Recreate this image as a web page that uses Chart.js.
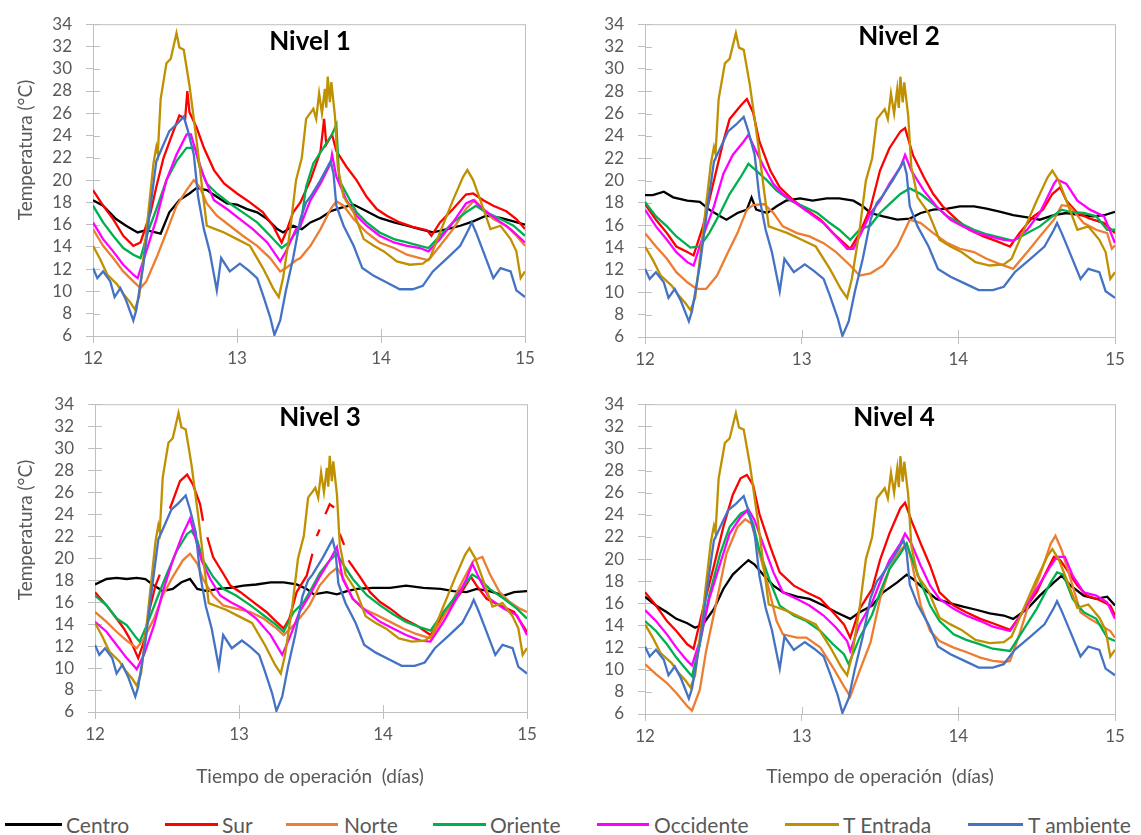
<!DOCTYPE html>
<html>
<head>
<meta charset="utf-8">
<script src="https://cdn.jsdelivr.net/npm/chart.js@4.4.1/dist/chart.umd.min.js"></script>
<style>
  body { margin: 0; background: #fff; }
  #page { position: relative; width: 1141px; height: 835px; font-family: Lato, "Open Sans", sans-serif; color: #595959; }
  canvas { position: absolute; }
  .txt { position: absolute; white-space: nowrap; transform: translate(-50%, -50%); }
  .nivel { font-weight: bold; font-size: 26px; color: #000; }
  .ytit { font-size: 19px; transform: translate(-50%, -50%) rotate(-90deg); }
  .xtit { font-size: 19px; }
  .leg-line { position: absolute; height: 3px; top: 823px; }
  .leg-txt { position: absolute; top: 812px; font-size: 21px; line-height: 26px; }
</style>
</head>
<body>
<div id="page">
  <canvas id="c1" width="560" height="380" style="left:0;top:0"></canvas>
  <canvas id="c2" width="581" height="380" style="left:560px;top:0"></canvas>
  <canvas id="c3" width="560" height="420" style="left:0;top:380px"></canvas>
  <canvas id="c4" width="581" height="420" style="left:560px;top:380px"></canvas>

  <div class="txt nivel" style="left:310px;top:40px">Nivel 1</div>
  <div class="txt nivel" style="left:899px;top:35px">Nivel 2</div>
  <div class="txt nivel" style="left:320px;top:416px">Nivel 3</div>
  <div class="txt nivel" style="left:894px;top:416px">Nivel 4</div>

  <div class="txt ytit" style="left:24px;top:150px">Temperatura (°C)</div>
  <div class="txt ytit" style="left:24px;top:530px">Temperatura (°C)</div>
  <div class="txt xtit" style="left:310px;top:775px">Tiempo de operación&nbsp; (días)</div>
  <div class="txt xtit" style="left:880px;top:775px">Tiempo de operación&nbsp; (días)</div>

  <div id="legend"></div>
</div>

<script>
// series names and colours (legend order)
const nombres = ['Centro', 'Sur', 'Norte', 'Oriente', 'Occidente', 'T Entrada', 'T ambiente'];
const colores = ['#000000', '#FF0000', '#ED7D31', '#00B050', '#FF00FF', '#BF9000', '#4472C4'];

// [día, °C] — same in all four panels
const tEntrada = [[12.00,14.1],[12.05,12.9],[12.10,11.5],[12.17,10.6],[12.21,9.8],[12.26,9.0],[12.29,8.4],[12.32,9.5],[12.36,14.1],[12.42,21.5],[12.44,23.0],[12.45,22.4],[12.47,27.3],[12.51,30.5],[12.54,30.9],[12.58,33.2],[12.60,31.9],[12.63,31.7],[12.67,28.5],[12.72,23.5],[12.76,19.1],[12.79,15.9],[12.85,15.6],[12.91,15.3],[13.00,14.7],[13.09,14.1],[13.18,12.1],[13.25,10.3],[13.29,9.5],[13.32,11.2],[13.37,15.6],[13.41,20.0],[13.45,22.0],[13.48,25.5],[13.53,26.4],[13.55,25.5],[13.57,27.8],[13.59,26.0],[13.61,28.2],[13.62,26.5],[13.63,29.3],[13.645,27.0],[13.655,28.8],[13.68,25.8],[13.70,21.2],[13.74,18.5],[13.81,17.1],[13.88,14.7],[13.95,14.1],[14.02,13.6],[14.11,12.7],[14.20,12.4],[14.29,12.5],[14.34,13.0],[14.41,15.3],[14.50,18.2],[14.57,20.3],[14.60,20.9],[14.64,20.0],[14.69,18.2],[14.76,15.6],[14.83,15.9],[14.90,14.7],[14.94,13.6],[14.97,11.2],[15.00,11.8]];
const tAmbiente = [[12.00,12.1],[12.03,11.2],[12.07,11.8],[12.12,10.9],[12.15,9.5],[12.19,10.3],[12.23,9.2],[12.28,7.4],[12.30,8.3],[12.35,12.4],[12.40,17.7],[12.44,21.7],[12.48,22.9],[12.53,24.4],[12.58,25.0],[12.63,25.7],[12.66,24.4],[12.70,22.3],[12.73,18.5],[12.77,15.6],[12.81,13.6],[12.86,10.1],[12.89,13.0],[12.95,11.8],[13.02,12.5],[13.08,11.9],[13.14,11.2],[13.18,9.7],[13.23,7.7],[13.26,6.1],[13.30,7.4],[13.34,10.1],[13.39,13.0],[13.44,16.5],[13.48,18.0],[13.51,18.5],[13.58,20.0],[13.65,21.7],[13.67,20.6],[13.69,17.7],[13.74,15.9],[13.81,14.1],[13.87,12.1],[13.95,11.4],[14.04,10.8],[14.13,10.2],[14.22,10.2],[14.29,10.5],[14.36,11.8],[14.46,13.0],[14.55,14.1],[14.61,15.6],[14.63,16.2],[14.66,15.3],[14.71,13.6],[14.78,11.2],[14.83,12.1],[14.90,11.8],[14.94,10.1],[15.00,9.5]];

// Nivel 1
const n1Centro = [[12.00,18.2],[12.07,17.7],[12.16,16.5],[12.23,15.9],[12.31,15.3],[12.37,15.5],[12.47,15.2],[12.53,17.1],[12.60,18.2],[12.67,18.8],[12.72,19.3],[12.79,19.1],[12.86,18.5],[12.93,17.9],[13.00,17.8],[13.07,17.4],[13.14,17.1],[13.21,16.5],[13.28,15.6],[13.32,15.3],[13.39,15.9],[13.45,15.6],[13.51,16.2],[13.58,16.6],[13.65,17.2],[13.72,17.5],[13.81,17.8],[13.90,17.2],[13.99,16.6],[14.09,16.2],[14.18,15.9],[14.27,15.6],[14.36,15.3],[14.46,15.6],[14.55,15.9],[14.64,16.3],[14.73,16.8],[14.83,16.6],[14.92,16.3],[15.00,16.0]];
const n1Sur = [[12.00,19.1],[12.07,17.7],[12.14,16.5],[12.21,15.0],[12.28,14.1],[12.33,14.4],[12.40,17.1],[12.44,19.4],[12.49,22.0],[12.55,24.1],[12.60,25.8],[12.64,25.5],[12.655,28.0],[12.67,26.1],[12.72,24.7],[12.77,22.9],[12.84,20.9],[12.91,19.7],[13.00,18.8],[13.09,18.0],[13.18,17.1],[13.25,15.9],[13.31,14.4],[13.34,15.3],[13.39,17.1],[13.44,18.0],[13.51,20.0],[13.58,22.6],[13.605,25.5],[13.62,23.2],[13.66,24.1],[13.69,22.6],[13.76,21.2],[13.83,20.0],[13.90,18.5],[13.97,17.4],[14.04,16.8],[14.13,16.2],[14.22,15.8],[14.32,15.5],[14.35,15.0],[14.41,16.2],[14.50,17.4],[14.59,18.7],[14.64,18.8],[14.71,18.2],[14.78,17.7],[14.87,17.2],[14.94,16.5],[15.00,15.6]];
const n1Norte = [[12.00,15.6],[12.07,14.1],[12.14,13.0],[12.21,11.8],[12.28,10.9],[12.33,10.3],[12.37,10.9],[12.44,13.0],[12.51,15.3],[12.58,17.7],[12.65,19.1],[12.70,20.0],[12.74,19.4],[12.79,17.9],[12.86,16.8],[12.95,15.9],[13.04,15.0],[13.14,14.1],[13.23,13.0],[13.30,11.8],[13.34,12.1],[13.41,12.8],[13.44,13.0],[13.51,14.1],[13.58,15.6],[13.65,17.4],[13.69,18.1],[13.74,17.7],[13.81,16.5],[13.90,15.3],[13.99,14.4],[14.09,13.9],[14.18,13.3],[14.27,13.0],[14.33,12.8],[14.41,14.1],[14.50,15.6],[14.59,17.4],[14.65,18.2],[14.71,17.4],[14.78,16.5],[14.87,15.9],[14.94,15.0],[15.00,14.1]];
const n1Oriente = [[12.00,17.7],[12.07,16.2],[12.14,15.0],[12.21,13.9],[12.28,13.3],[12.33,13.0],[12.38,15.3],[12.44,17.4],[12.51,20.0],[12.58,21.7],[12.65,22.9],[12.71,22.9],[12.74,21.2],[12.79,19.7],[12.86,18.8],[12.95,17.9],[13.04,17.1],[13.14,16.2],[13.23,15.0],[13.31,13.9],[13.36,14.4],[13.41,15.3],[13.44,15.8],[13.48,19.4],[13.53,21.5],[13.60,22.9],[13.66,24.1],[13.69,25.0],[13.71,20.0],[13.76,18.8],[13.83,17.1],[13.90,16.2],[13.99,15.3],[14.09,14.7],[14.18,14.4],[14.27,14.1],[14.33,13.9],[14.41,15.0],[14.50,16.2],[14.59,17.1],[14.66,17.7],[14.73,17.1],[14.83,16.5],[14.92,15.9],[15.00,15.0]];
const n1Occidente = [[12.00,16.2],[12.07,14.7],[12.14,13.6],[12.21,12.4],[12.28,11.5],[12.31,11.2],[12.37,13.6],[12.44,16.5],[12.51,20.0],[12.58,22.3],[12.65,24.1],[12.68,24.1],[12.72,22.3],[12.77,20.3],[12.84,18.2],[12.93,17.4],[13.02,16.5],[13.11,15.6],[13.21,14.4],[13.30,12.7],[13.34,13.6],[13.41,15.6],[13.44,15.9],[13.51,18.2],[13.58,19.7],[13.65,21.5],[13.66,22.3],[13.69,20.3],[13.76,18.2],[13.83,16.8],[13.90,15.9],[13.99,15.0],[14.09,14.4],[14.18,14.1],[14.27,13.9],[14.33,13.6],[14.41,14.7],[14.50,16.2],[14.59,17.9],[14.64,18.2],[14.71,17.4],[14.80,16.5],[14.90,15.6],[15.00,14.4]];

// Nivel 2
const n2Centro = [[12.00,18.7],[12.05,18.7],[12.12,19.0],[12.18,18.5],[12.27,18.2],[12.35,18.1],[12.41,17.4],[12.48,16.8],[12.52,16.5],[12.59,17.1],[12.65,17.4],[12.68,18.5],[12.71,17.4],[12.78,17.1],[12.84,17.7],[12.90,18.2],[12.99,18.4],[13.07,18.2],[13.16,18.4],[13.24,18.4],[13.33,18.2],[13.39,17.7],[13.44,17.1],[13.52,16.8],[13.61,16.5],[13.69,16.6],[13.76,17.1],[13.84,17.4],[13.93,17.5],[14.01,17.7],[14.10,17.7],[14.18,17.5],[14.27,17.2],[14.35,16.9],[14.44,16.7],[14.52,16.5],[14.61,16.9],[14.69,17.1],[14.78,16.9],[14.86,16.8],[14.93,16.9],[15.00,17.2]];
const n2Sur = [[12.00,17.9],[12.07,16.5],[12.14,15.3],[12.20,14.1],[12.27,13.6],[12.31,13.3],[12.37,15.9],[12.44,20.0],[12.50,23.5],[12.54,25.5],[12.61,26.7],[12.65,27.3],[12.69,26.1],[12.73,23.5],[12.80,20.9],[12.86,19.4],[12.95,18.2],[13.03,17.4],[13.12,16.5],[13.20,15.3],[13.27,14.4],[13.31,13.9],[13.37,15.3],[13.44,17.6],[13.50,20.9],[13.56,22.9],[13.63,24.4],[13.66,24.7],[13.71,22.3],[13.78,20.3],[13.84,18.8],[13.90,17.7],[13.99,16.5],[14.07,15.6],[14.16,15.0],[14.24,14.6],[14.33,14.1],[14.39,15.3],[14.48,16.8],[14.54,17.4],[14.60,18.8],[14.65,19.4],[14.69,18.2],[14.76,17.1],[14.84,16.6],[14.93,16.2],[15.00,15.3]];
const n2Norte = [[12.00,15.3],[12.07,14.1],[12.14,13.0],[12.20,11.8],[12.27,10.9],[12.33,10.3],[12.39,10.3],[12.46,11.5],[12.52,13.3],[12.59,15.3],[12.65,17.4],[12.69,17.8],[12.76,17.9],[12.82,17.1],[12.88,15.9],[12.97,15.3],[13.05,15.0],[13.14,14.4],[13.22,13.6],[13.31,12.4],[13.37,11.5],[13.44,11.7],[13.52,12.4],[13.61,14.1],[13.67,15.9],[13.69,16.5],[13.76,16.2],[13.84,15.3],[13.93,14.4],[14.01,13.9],[14.10,13.6],[14.18,13.0],[14.27,12.5],[14.35,12.1],[14.44,13.6],[14.52,15.0],[14.61,16.5],[14.66,17.8],[14.71,17.7],[14.80,16.2],[14.88,15.6],[14.95,15.3],[14.98,13.9],[15.00,14.2]];
const n2Oriente = [[12.00,18.1],[12.07,16.8],[12.14,15.9],[12.20,15.0],[12.29,14.0],[12.35,14.1],[12.41,15.3],[12.48,17.1],[12.54,18.8],[12.61,20.3],[12.66,21.5],[12.71,20.9],[12.78,20.0],[12.84,19.1],[12.93,18.2],[13.01,17.7],[13.10,17.1],[13.18,16.2],[13.24,15.6],[13.31,14.7],[13.37,15.6],[13.44,16.0],[13.50,17.1],[13.56,17.9],[13.63,18.8],[13.69,19.3],[13.76,18.8],[13.84,17.9],[13.93,16.8],[14.01,16.2],[14.10,15.6],[14.18,15.2],[14.27,14.9],[14.35,14.6],[14.44,15.3],[14.52,15.9],[14.60,16.8],[14.66,17.4],[14.71,17.2],[14.80,17.1],[14.88,16.8],[14.95,15.6],[15.00,15.6]];
const n2Occidente = [[12.00,17.4],[12.07,15.9],[12.14,14.7],[12.20,13.6],[12.27,12.7],[12.31,12.4],[12.37,15.0],[12.44,17.7],[12.50,20.6],[12.56,22.3],[12.63,23.5],[12.66,24.1],[12.70,22.9],[12.76,21.2],[12.82,19.7],[12.88,18.8],[12.97,17.9],[13.05,17.1],[13.14,16.2],[13.22,15.0],[13.29,13.9],[13.33,13.9],[13.39,15.6],[13.44,17.1],[13.50,18.2],[13.56,19.7],[13.63,21.2],[13.66,22.3],[13.70,20.9],[13.78,19.1],[13.86,17.7],[13.95,16.5],[14.03,15.9],[14.12,15.3],[14.20,15.0],[14.29,14.7],[14.35,14.6],[14.44,15.6],[14.52,17.1],[14.61,19.7],[14.63,20.1],[14.69,19.7],[14.76,18.2],[14.84,17.4],[14.93,16.8],[15.00,14.4]];

// Nivel 3 (null = hueco en el registro)
const n3Centro = [[12.00,17.6],[12.08,18.1],[12.15,18.2],[12.22,18.1],[12.29,18.2],[12.35,18.1],[12.41,17.5],[12.47,17.0],[12.54,17.2],[12.60,17.8],[12.66,18.1],[12.71,17.2],[12.78,17.0],[12.85,17.2],[12.94,17.3],[13.03,17.5],[13.12,17.6],[13.22,17.8],[13.31,17.8],[13.40,17.6],[13.47,17.2],[13.52,16.7],[13.61,16.9],[13.68,16.7],[13.75,17.0],[13.82,17.2],[13.93,17.3],[14.05,17.3],[14.16,17.5],[14.28,17.3],[14.40,17.2],[14.49,17.0],[14.58,16.9],[14.65,17.2],[14.74,17.0],[14.84,16.6],[14.91,16.9],[15.00,17.0]];
const n3Sur = [[12.00,16.9],[12.08,15.7],[12.15,14.5],[12.20,13.6],[12.24,12.7],[12.30,10.9],[12.34,12.4],[12.38,15.4],[12.42,17.5],[12.45,18.5],[12.46,null],[12.52,24.5],[12.54,25.2],[12.59,27.0],[12.64,27.6],[12.68,26.7],[12.73,24.9],[12.75,23.4],[12.76,null],[12.78,21.9],[12.82,20.1],[12.89,18.6],[12.94,17.5],[13.01,16.9],[13.10,16.0],[13.19,15.1],[13.26,14.2],[13.31,13.6],[13.35,14.5],[13.40,16.9],[13.47,18.4],[13.51,20.4],[13.52,null],[13.54,22.0],[13.56,22.6],[13.57,null],[13.60,24.0],[13.63,24.9],[13.66,24.6],[13.67,null],[13.70,22.2],[13.73,21.2],[13.74,null],[13.76,19.8],[13.84,18.3],[13.91,16.9],[13.98,16.0],[14.05,15.4],[14.14,14.5],[14.23,13.9],[14.33,13.0],[14.40,14.5],[14.49,16.0],[14.56,17.2],[14.61,18.3],[14.65,17.5],[14.72,16.3],[14.81,15.7],[14.91,15.1],[15.00,13.3]];
const n3Norte = [[12.00,15.1],[12.08,14.2],[12.15,13.3],[12.22,12.5],[12.29,11.8],[12.34,12.7],[12.41,14.5],[12.47,16.6],[12.54,18.3],[12.61,19.8],[12.66,20.4],[12.71,19.5],[12.75,18.1],[12.82,16.6],[12.89,15.7],[12.98,15.4],[13.08,15.1],[13.17,14.5],[13.26,13.6],[13.31,13.0],[13.38,13.9],[13.45,15.0],[13.49,15.7],[13.56,17.5],[13.63,18.6],[13.68,19.1],[13.72,18.3],[13.79,16.3],[13.86,15.4],[13.96,14.8],[14.05,14.2],[14.14,13.6],[14.23,13.1],[14.33,12.7],[14.40,14.2],[14.49,16.3],[14.56,18.1],[14.63,19.8],[14.69,20.1],[14.74,18.6],[14.81,16.9],[14.88,16.0],[14.95,15.4],[15.00,15.1]];
const n3Oriente = [[12.00,16.6],[12.08,15.7],[12.15,14.5],[12.22,13.9],[12.29,12.7],[12.31,12.4],[12.36,13.9],[12.43,16.3],[12.50,18.6],[12.57,20.7],[12.64,22.2],[12.67,22.5],[12.71,21.6],[12.75,19.8],[12.82,18.3],[12.89,17.2],[12.98,16.6],[13.08,15.7],[13.17,14.8],[13.26,13.9],[13.31,13.3],[13.38,15.1],[13.45,16.0],[13.49,16.9],[13.56,18.6],[13.63,19.8],[13.68,20.4],[13.72,19.5],[13.79,18.1],[13.89,16.6],[13.98,15.7],[14.07,14.9],[14.16,14.2],[14.26,13.7],[14.33,13.4],[14.42,15.1],[14.51,16.6],[14.58,17.8],[14.62,18.5],[14.67,18.1],[14.74,17.2],[14.84,16.3],[14.93,15.4],[15.00,14.5]];
const n3Occidente = [[12.00,14.2],[12.08,13.3],[12.15,12.1],[12.22,10.9],[12.29,9.9],[12.34,11.2],[12.41,13.9],[12.47,16.9],[12.54,19.8],[12.61,22.2],[12.66,23.6],[12.69,22.2],[12.74,19.8],[12.80,18.1],[12.87,16.6],[12.94,16.0],[13.03,15.4],[13.12,14.5],[13.22,13.0],[13.30,11.2],[13.35,12.7],[13.42,15.1],[13.49,16.6],[13.56,18.3],[13.63,19.8],[13.68,21.0],[13.72,18.1],[13.79,16.3],[13.89,15.1],[13.98,14.2],[14.07,13.6],[14.16,13.0],[14.26,12.5],[14.33,12.4],[14.42,14.2],[14.51,16.3],[14.58,18.1],[14.62,19.5],[14.67,18.1],[14.74,16.3],[14.84,15.4],[14.93,14.8],[15.00,13.0]];

// Nivel 4
const n4Centro = [[12.00,16.6],[12.07,15.8],[12.14,15.2],[12.20,14.6],[12.27,14.2],[12.32,13.8],[12.37,14.1],[12.44,15.5],[12.50,17.3],[12.56,18.6],[12.62,19.4],[12.66,19.9],[12.70,19.5],[12.76,18.5],[12.82,17.6],[12.88,17.0],[12.97,16.6],[13.05,16.4],[13.14,15.8],[13.22,15.2],[13.31,14.6],[13.37,15.2],[13.45,15.8],[13.52,17.0],[13.61,17.9],[13.67,18.6],[13.71,18.2],[13.78,17.3],[13.86,16.4],[13.95,16.0],[14.03,15.7],[14.12,15.4],[14.20,15.1],[14.29,14.9],[14.35,14.6],[14.44,15.5],[14.52,16.7],[14.61,17.9],[14.66,18.5],[14.71,17.7],[14.80,16.7],[14.88,16.4],[14.95,16.6],[15.00,15.8]];
const n4Sur = [[12.00,17.0],[12.07,15.8],[12.14,14.4],[12.20,13.5],[12.27,12.3],[12.31,11.9],[12.37,15.5],[12.44,19.4],[12.50,22.9],[12.56,25.8],[12.61,27.3],[12.65,27.6],[12.69,26.7],[12.73,24.1],[12.80,21.1],[12.86,18.8],[12.95,17.6],[13.03,17.0],[13.12,16.4],[13.20,15.2],[13.27,14.1],[13.31,12.9],[13.37,15.5],[13.45,17.3],[13.50,19.9],[13.56,22.3],[13.63,24.6],[13.66,25.1],[13.70,23.5],[13.76,21.4],[13.82,19.4],[13.88,17.0],[13.97,15.8],[14.05,15.2],[14.14,14.6],[14.22,14.2],[14.33,13.6],[14.41,15.2],[14.50,17.0],[14.56,18.8],[14.61,20.2],[14.65,19.9],[14.69,19.1],[14.76,17.6],[14.82,16.7],[14.90,16.3],[14.97,15.8],[15.00,14.9]];
const n4Norte = [[12.00,10.5],[12.07,9.6],[12.14,8.8],[12.20,7.9],[12.27,6.7],[12.30,6.3],[12.35,8.2],[12.39,11.7],[12.46,16.4],[12.52,20.5],[12.59,22.9],[12.64,23.6],[12.68,23.2],[12.72,21.1],[12.78,17.9],[12.84,14.4],[12.88,13.2],[12.97,12.9],[13.03,12.9],[13.12,12.0],[13.20,10.2],[13.27,8.5],[13.31,7.6],[13.37,9.9],[13.44,12.5],[13.50,16.4],[13.56,19.1],[13.63,20.8],[13.67,21.4],[13.70,19.9],[13.76,15.8],[13.82,13.5],[13.88,12.6],[13.97,12.0],[14.05,11.6],[14.14,11.1],[14.22,10.8],[14.29,10.7],[14.33,10.8],[14.39,13.2],[14.46,16.4],[14.52,18.5],[14.59,21.4],[14.62,22.1],[14.66,20.8],[14.71,18.5],[14.78,15.2],[14.84,14.6],[14.90,14.1],[14.97,13.5],[15.00,12.9]];
const n4Oriente = [[12.00,14.4],[12.07,13.5],[12.14,12.3],[12.20,11.1],[12.27,9.9],[12.30,9.4],[12.35,12.3],[12.41,16.7],[12.48,20.5],[12.54,22.9],[12.61,24.1],[12.65,24.4],[12.69,23.2],[12.73,20.8],[12.80,17.9],[12.86,15.8],[12.95,14.9],[13.03,14.4],[13.12,13.5],[13.20,12.3],[13.27,11.4],[13.30,10.5],[13.37,12.9],[13.45,15.0],[13.50,17.0],[13.56,19.1],[13.63,20.5],[13.67,21.4],[13.70,20.2],[13.76,17.9],[13.82,15.8],[13.88,14.4],[13.97,13.2],[14.05,12.7],[14.14,12.3],[14.22,11.9],[14.33,11.7],[14.41,13.5],[14.50,15.5],[14.59,17.9],[14.63,18.8],[14.67,18.6],[14.73,16.4],[14.80,15.2],[14.88,14.6],[14.95,12.9],[15.00,12.6]];
const n4Occidente = [[12.00,15.4],[12.07,14.4],[12.14,13.2],[12.20,12.0],[12.27,10.8],[12.30,10.4],[12.35,12.6],[12.41,16.4],[12.48,19.6],[12.54,22.3],[12.61,23.8],[12.66,24.5],[12.70,23.5],[12.76,21.1],[12.82,18.8],[12.88,17.0],[12.97,16.4],[13.05,15.8],[13.14,14.9],[13.22,13.8],[13.29,12.6],[13.31,11.7],[13.37,14.1],[13.45,16.1],[13.50,17.9],[13.56,19.9],[13.63,21.4],[13.66,22.3],[13.70,21.4],[13.76,19.4],[13.82,17.6],[13.88,16.4],[13.97,15.5],[14.05,14.9],[14.14,14.4],[14.22,13.9],[14.33,13.5],[14.41,15.2],[14.50,17.3],[14.59,19.4],[14.63,20.2],[14.68,20.2],[14.73,18.5],[14.80,17.0],[14.88,16.7],[14.95,16.1],[15.00,14.6]];

const ejeColor = '#BFBFBF';
const fuente = 'Lato, "Open Sans", sans-serif';

// gray frame round the plot area, with tick marks crossing into it
const marco = {
    id: 'marco',
    beforeDatasetsDraw(chart) {
        const { ctx, chartArea: a, scales } = chart;
        ctx.save();
        ctx.strokeStyle = ejeColor;
        ctx.lineWidth = 1;
        ctx.strokeRect(a.left + 0.5, a.top + 0.5, a.right - a.left, a.bottom - a.top);
        ctx.beginPath();
        scales.y.ticks.forEach(t => {
            const y = Math.round(scales.y.getPixelForValue(t.value)) + 0.5;
            ctx.moveTo(a.left, y); ctx.lineTo(a.left + 7, y);
        });
        scales.x.ticks.forEach(t => {
            const x = Math.round(scales.x.getPixelForValue(t.value)) + 0.5;
            ctx.moveTo(x, a.bottom); ctx.lineTo(x, a.bottom - 7);
        });
        ctx.stroke();
        ctx.restore();
    }
};

// box = canvas position on the page, area = plot area on the page
const crearPanel = (id, box, area, series) => {
    const ejeY = area.left - box.left;
    const altoX = 44;
    new Chart(document.getElementById(id), {
        type: 'line',
        data: {
            datasets: series.map((s, i) => ({
                label: nombres[i],
                data: s.map(p => ({ x: p[0], y: p[1] })),
                borderColor: colores[i],
                backgroundColor: colores[i],
                borderWidth: 2.3,
                pointRadius: 0,
                tension: 0,
                spanGaps: false,
                order: series.length - i
            }))
        },
        options: {
            responsive: false,
            animation: false,
            events: [],
            layout: {
                padding: {
                    top: area.top - box.top,
                    right: box.left + box.width - area.right,
                    bottom: box.top + box.height - area.bottom - altoX,
                    left: 0
                }
            },
            plugins: { legend: { display: false }, tooltip: { enabled: false } },
            scales: {
                x: {
                    type: 'linear', min: 12, max: 15,
                    afterFit: s => { s.height = altoX; },
                    ticks: { stepSize: 1, autoSkip: false, color: '#595959', font: { family: fuente, size: 17 }, padding: 5 },
                    grid: { drawOnChartArea: false, color: ejeColor, tickLength: 7 },
                    border: { color: ejeColor }
                },
                y: {
                    min: 6, max: 34,
                    afterFit: s => { s.width = ejeY; },
                    ticks: { stepSize: 2, autoSkip: false, color: '#595959', font: { family: fuente, size: 17 }, padding: 14 },
                    grid: { drawOnChartArea: false, color: ejeColor, tickLength: 7 },
                    border: { color: ejeColor }
                }
            }
        },
        plugins: [marco]
    });
};

crearPanel('c1', { left: 0, top: 0, width: 560, height: 380 }, { left: 93, top: 17, right: 525, bottom: 336 },
    [n1Centro, n1Sur, n1Norte, n1Oriente, n1Occidente, tEntrada, tAmbiente]);
crearPanel('c2', { left: 560, top: 0, width: 581, height: 380 }, { left: 645, top: 17, right: 1115, bottom: 337 },
    [n2Centro, n2Sur, n2Norte, n2Oriente, n2Occidente, tEntrada, tAmbiente]);
crearPanel('c3', { left: 0, top: 380, width: 560, height: 420 }, { left: 95, top: 398, right: 527, bottom: 712 },
    [n3Centro, n3Sur, n3Norte, n3Oriente, n3Occidente, tEntrada, tAmbiente]);
crearPanel('c4', { left: 560, top: 380, width: 581, height: 420 }, { left: 645, top: 397, right: 1115, bottom: 714 },
    [n4Centro, n4Sur, n4Norte, n4Oriente, n4Occidente, tEntrada, tAmbiente]);

// shared legend along the bottom
const leyendaX = [[5, 62, 66], [165, 218, 222], [286, 338, 344], [433, 486, 490], [597, 649, 654], [785, 839, 843], [968, 1023, 1028]];
const leyenda = document.getElementById('legend');
nombres.forEach((n, i) => {
    const [x1, x2, xt] = leyendaX[i];
    const linea = document.createElement('div');
    linea.className = 'leg-line';
    linea.style.left = x1 + 'px';
    linea.style.width = (x2 - x1) + 'px';
    linea.style.background = colores[i];
    leyenda.appendChild(linea);
    const txt = document.createElement('div');
    txt.className = 'leg-txt';
    txt.style.left = xt + 'px';
    txt.textContent = n;
    leyenda.appendChild(txt);
});
</script>
</body>
</html>
